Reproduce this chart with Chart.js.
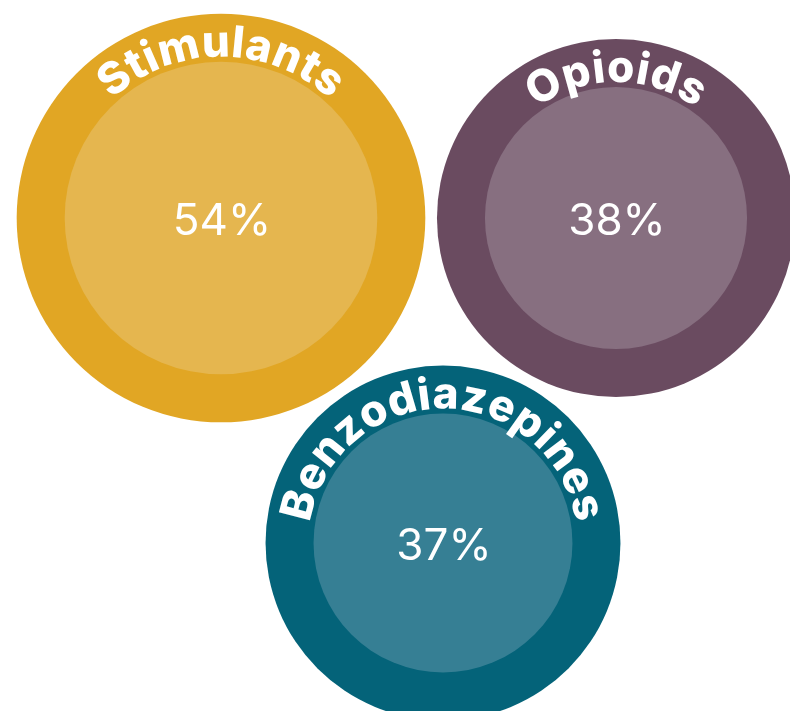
<!DOCTYPE html>
<html>
<head>
<meta charset="utf-8">
<script src="https://cdn.jsdelivr.net/npm/chart.js@4.4.1/dist/chart.umd.min.js"></script>
<style>
  html, body { margin: 0; padding: 0; background: #ffffff; }
  #wrap { width: 790px; height: 711px; position: relative; }
</style>
</head>
<body>
<div id="wrap"><canvas id="c"></canvas></div>
<script>
// ---- data ----
const categories = ['Stimulants', 'Opioids', 'Benzodiazepines'];
const values = [54, 38, 37];
const valueLabels = ['54%', '38%', '37%'];
// layout (bubble placement in scale units)
const bubbleX = [221, 616, 443];
const bubbleY = [218, 218, 543];
// styles
const outerColors = ['#E1A624', '#6A4B60', '#046379'];
const innerColors = ['#E5B64F', '#876F80', '#367F94'];
const RING = 48;
const radiusFor = v => 119 + 1.58 * v;

const outerPoints = values.map((v, i) => ({ x: bubbleX[i], y: bubbleY[i], r: radiusFor(v) }));
const innerPoints = values.map((v, i) => ({ x: bubbleX[i], y: bubbleY[i], r: radiusFor(v) - RING }));

// keep the plot area on the full canvas (no auto padding for big bubbles)
Chart.BubbleController.prototype.getMaxOverflow = function () { return 0; };

function drawArcText(ctx, text, cx, cy, R, font, spacing) {
  ctx.font = font;
  const chars = Array.from(text);
  const widths = chars.map(c => ctx.measureText(c).width + spacing);
  const total = widths.reduce((a, b) => a + b, 0) - spacing;
  let a = -Math.PI / 2 - total / R / 2;
  ctx.textAlign = 'center';
  ctx.textBaseline = 'alphabetic';
  chars.forEach((c, i) => {
    const w = widths[i] - spacing;
    const theta = a + (w / 2) / R;
    ctx.save();
    ctx.translate(cx + R * Math.cos(theta), cy + R * Math.sin(theta));
    ctx.rotate(theta + Math.PI / 2);
    ctx.fillText(c, 0, 0);
    ctx.restore();
    a += widths[i] / R;
  });
}

const labelPlugin = {
  id: 'bubbleLabels',
  afterDatasetsDraw(chart) {
    const ctx = chart.ctx;
    const innerMeta = chart.getDatasetMeta(0);
    ctx.save();
    ctx.fillStyle = '#ffffff';
    innerMeta.data.forEach((el, i) => {
      const cx = el.x, cy = el.y;
      const rIn = el.options.radius;
      drawArcText(ctx, categories[i], cx, cy, rIn + 5, '800 44px Inter, "Open Sans", sans-serif', 0.5);
      ctx.font = '400 44px Inter, "Open Sans", sans-serif';
      ctx.textAlign = 'center';
      ctx.textBaseline = 'alphabetic';
      const m = ctx.measureText(valueLabels[i]);
      const asc = m.actualBoundingBoxAscent;
      ctx.fillText(valueLabels[i], cx + 1, cy + asc / 2 + 1);
    });
    ctx.restore();
  }
};

new Chart(document.getElementById('c'), {
  type: 'bubble',
  data: {
    datasets: [
      { label: 'inner', data: innerPoints, backgroundColor: innerColors, borderWidth: 0, hoverBorderWidth: 0, hoverRadius: 0, clip: false },
      { label: 'outer', data: outerPoints, backgroundColor: outerColors, borderWidth: 0, hoverBorderWidth: 0, hoverRadius: 0, clip: false }
    ]
  },
  options: {
    responsive: true,
    maintainAspectRatio: false,
    animation: false,
    events: [],
    layout: { padding: 0 },
    scales: {
      x: { type: 'linear', min: 0, max: 790, display: false },
      y: { type: 'linear', min: 0, max: 711, reverse: true, display: false }
    },
    plugins: { legend: { display: false }, tooltip: { enabled: false } }
  },
  plugins: [labelPlugin]
});
</script>
</body>
</html>
